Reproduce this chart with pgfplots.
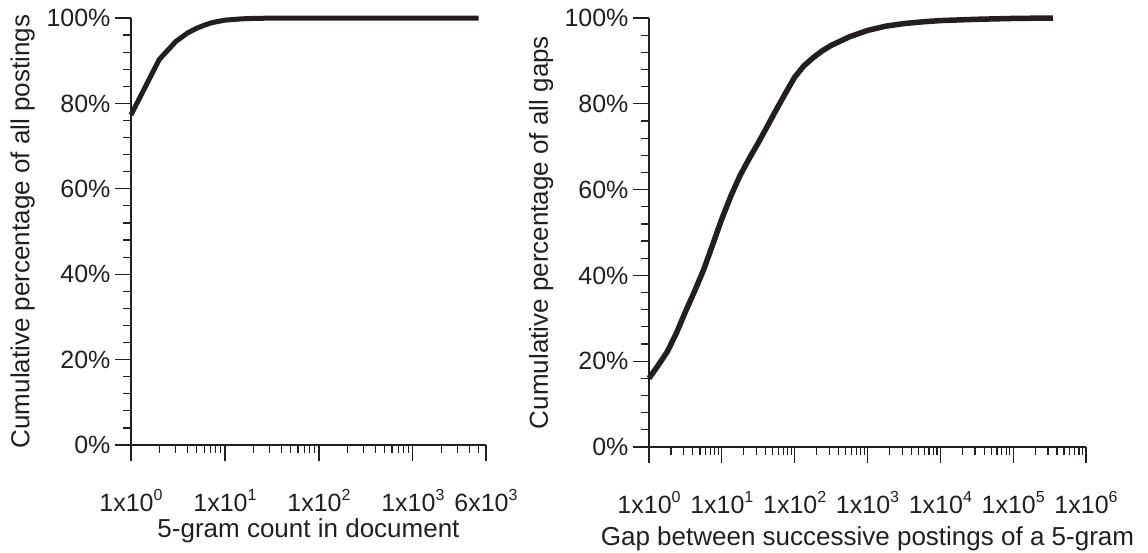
\documentclass[border=0pt]{standalone}
\usepackage{fontspec}
\setmainfont{Liberation Sans}
\usepackage{pgfplots}
\pgfplotsset{compat=1.18}
\definecolor{ink}{HTML}{231F20}
\newcommand\sups[1]{\raisebox{11pt}{\fontsize{16}{16}\selectfont #1}}

\pgfplotsset{
  cdfstyle/.style={
    scale only axis,
    ymin=0, ymax=100,
    axis x line*=bottom,
    axis y line*=left,
    enlargelimits=false,
    clip=false,
    tick align=outside,
    major tick length=16pt,
    minor tick length=8pt,
    every tick/.style={ink, line width=1.2pt},
    axis line style={ink, line width=2pt},
    ytick={0,20,40,60,80,100},
    yticklabels={0\%,20\%,40\%,60\%,80\%,100\%},
    minor y tick num=4,
    ticklabel style={font=\fontsize{25}{30}\selectfont, text=ink},
    label style={font=\fontsize{26}{31}\selectfont, text=ink},
    yticklabel style={xshift=-1pt},
    xticklabel style={yshift=-25pt},
  },
}

\begin{document}
\begin{tikzpicture}
\useasboundingbox (0pt,0pt) rectangle (1148pt,-552pt);
% left panel: count per document
\begin{semilogxaxis}[
  cdfstyle,
  at={(131pt,-445pt)}, anchor=south west,
  width=355pt, height=427pt,
  xmin=1, xmax=6000,
  xtick={1,10,100,1000,6000},
  minor xtick={2,3,4,5,6,7,8,9,20,30,40,50,60,70,80,90,200,300,400,500,600,700,800,900,2000,3000,4000,5000},
  xticklabels={1x10\sups{0},1x10\sups{1},1x10\sups{2},1x10\sups{3},6x10\sups{3}},
  xlabel={5-gram count in document},
  ylabel={Cumulative percentage of all postings},
  xlabel style={at={(axis description cs:0.5,-0.2)}, anchor=center},
  ylabel style={at={(axis description cs:-0.305,0.5)}, anchor=center, rotate=0},
]
\addplot[ink, line width=5pt, line join=round] coordinates {
  (1,77.3) (2,90.3) (3,94.5) (4,96.5) (5,97.6) (6,98.3) (7,98.8)
  (8,99.1) (10,99.5) (15,99.8) (20,99.9) (30,99.97) (100,100) (5000,100)
};
\end{semilogxaxis}

% right panel: gaps between postings
\begin{semilogxaxis}[
  cdfstyle,
  at={(649pt,-447pt)}, anchor=south west,
  width=437pt, height=429pt,
  xmin=1, xmax=1000000,
  xtick={1,10,100,1000,10000,100000,1000000},
  xticklabels={1x10\sups{0},1x10\sups{1},1x10\sups{2},1x10\sups{3},1x10\sups{4},1x10\sups{5},1x10\sups{6}},
  xlabel={Gap between successive postings of a 5-gram},
  ylabel={Cumulative percentage of all gaps},
  xlabel style={at={(axis description cs:0.5,-0.213)}, anchor=center},
  ylabel style={at={(axis description cs:-0.247,0.5)}, anchor=center, rotate=0},
]
\addplot[ink, line width=5.5pt, line join=round] coordinates {
  (1,16.0) (1.33,19.0) (1.78,22.2) (2.37,26.5) (3.16,31.5) (4.22,36.3)
  (5.62,41.3) (7.5,47.2) (10,53.2) (13.3,58.5) (17.8,63.3) (23.7,67.2)
  (31.6,70.9) (42.2,74.8) (56.2,78.7) (75,82.5) (100,86.2) (133,88.8)
  (178,90.7) (237,92.3) (316,93.6) (562,95.6) (1000,97.1) (1778,98.1)
  (3162,98.7) (5623,99.1) (10000,99.4) (31623,99.7) (100000,99.9) (350000,100)
};
\end{semilogxaxis}
\end{tikzpicture}
\end{document}
